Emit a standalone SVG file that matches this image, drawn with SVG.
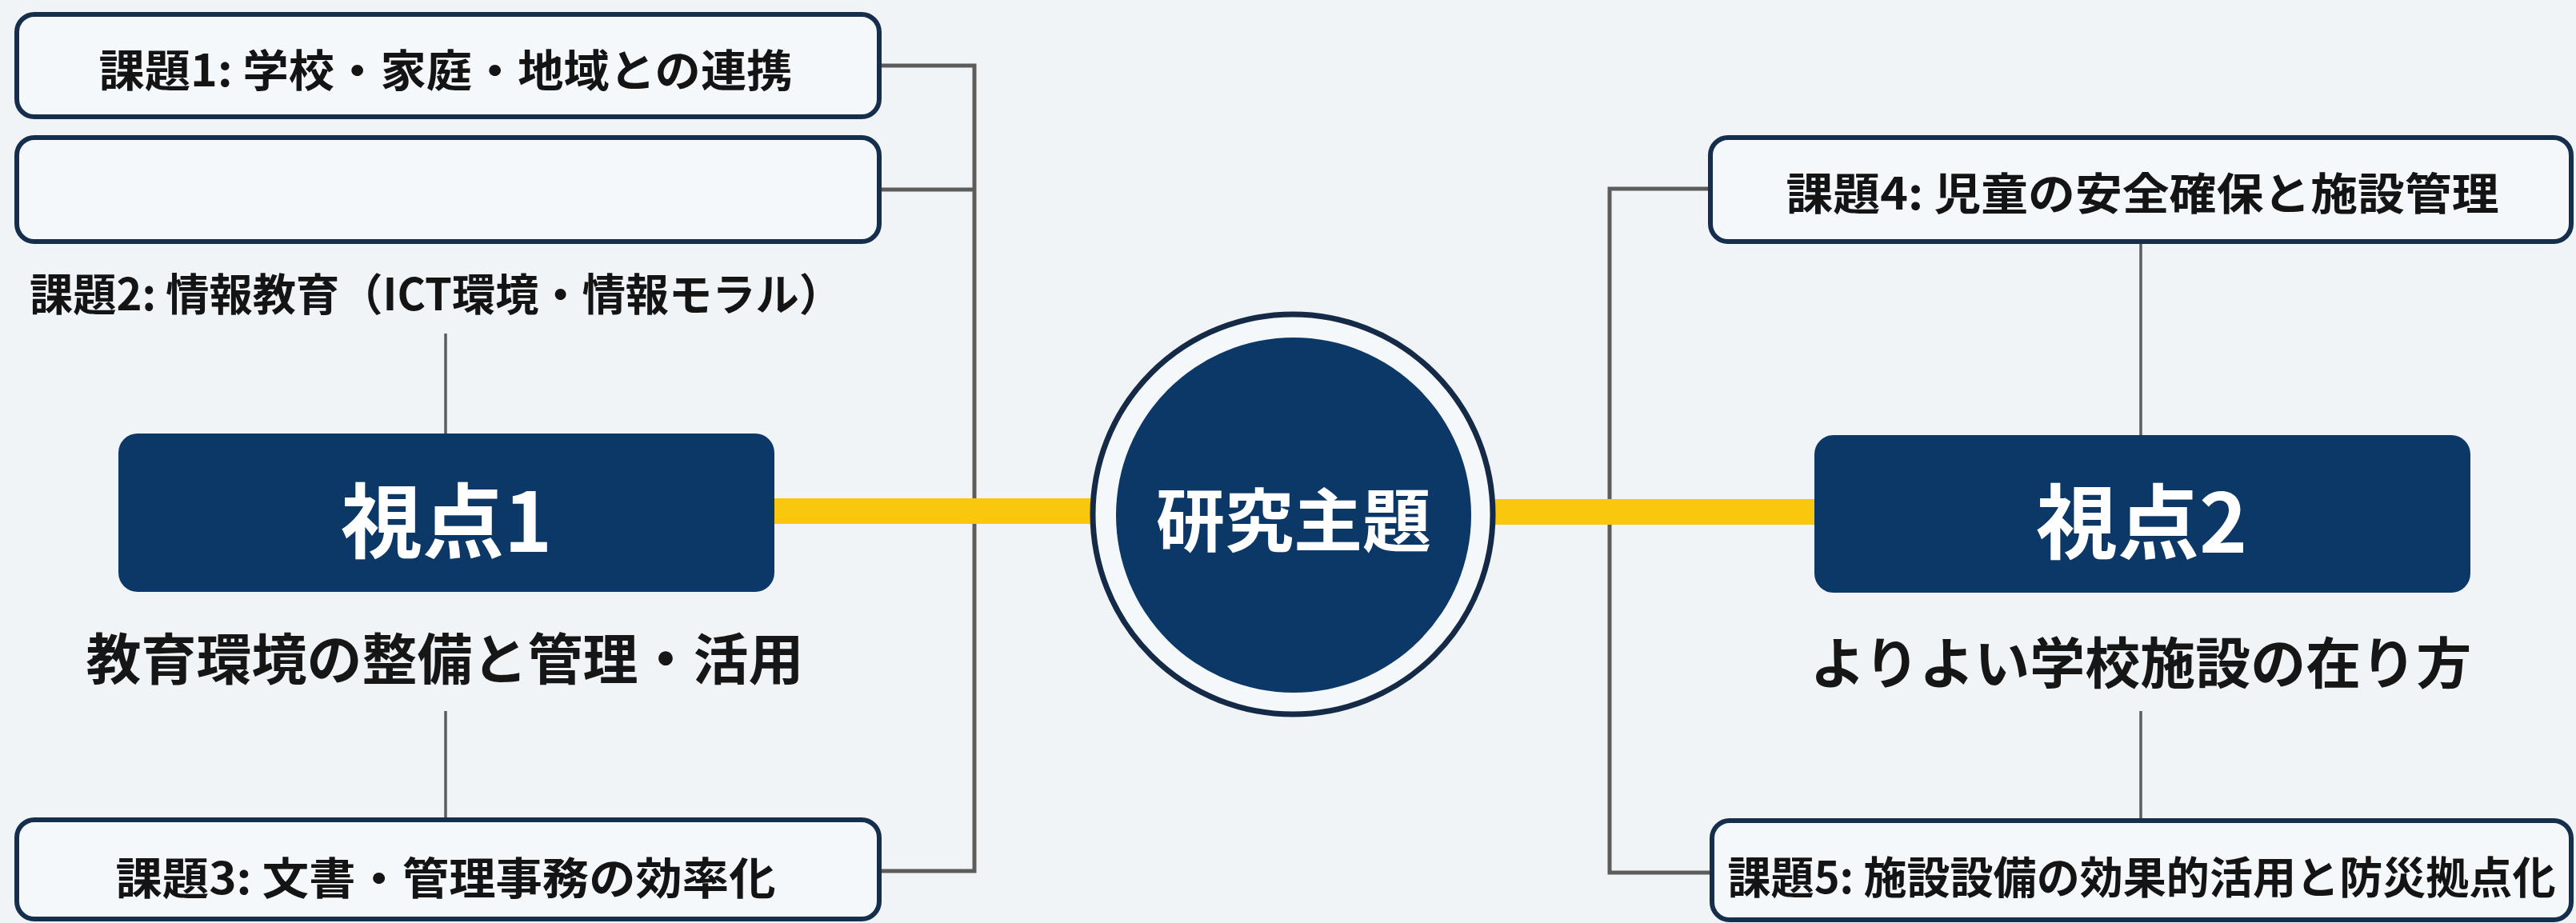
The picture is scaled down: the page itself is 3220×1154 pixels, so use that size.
<svg xmlns="http://www.w3.org/2000/svg" width="3220" height="1154" viewBox="0 0 3220 1154">
<style>
.bg{fill:#F0F4F7}
.task{fill:#F4F8FB;stroke:#142E4C;stroke-width:6}
.tt{font-family:"Noto Sans CJK JP","Noto Sans",sans-serif;font-weight:700;font-size:55px;fill:#141414;text-anchor:middle;dominant-baseline:central}
.view{fill:#0C3868}
.vt{font-family:"Noto Sans CJK JP","Noto Sans",sans-serif;font-weight:700;font-size:102px;fill:#FFFFFF;text-anchor:middle;dominant-baseline:central}
.sub{font-family:"Noto Sans CJK JP","Noto Sans",sans-serif;font-weight:700;font-size:69px;fill:#161616;text-anchor:middle;dominant-baseline:central}
.br{fill:none;stroke:#5C5C5C;stroke-width:5}
.thin{fill:none;stroke:#5C5C5C;stroke-width:3.5}
.yl{stroke:#F9C80E;stroke-width:32}
</style>
<rect class="bg" x="0" y="0" width="3220" height="1154"/>
<g id="connectors">
<polyline class="br" points="1099,82 1218,82 1218,1089 1099,1089"/>
<line class="br" x1="1099" y1="237" x2="1218" y2="237"/>
<line class="thin" x1="557" y1="417" x2="557" y2="542"/>
<line class="thin" x1="557" y1="889" x2="557" y2="1025"/>
<polyline class="br" points="2138,236 2012,236 2012,1091 2140,1091"/>
<line class="thin" x1="2676" y1="302" x2="2676" y2="544"/>
<line class="thin" x1="2676" y1="889" x2="2676" y2="1026"/>
<line class="yl" x1="968" y1="639" x2="1368" y2="639"/>
<line class="yl" x1="1866" y1="640" x2="2268" y2="640"/>
</g>
<g id="task1">
<rect class="task" x="21" y="18" width="1078" height="128" rx="22"/>
<text class="tt" x="557" y="84" textLength="867" lengthAdjust="spacingAndGlyphs">課題1: 学校・家庭・地域との連携</text>
</g>
<g id="task2">
<rect class="task" x="21" y="172" width="1078" height="130" rx="22"/>
<text class="tt" x="545" y="364" textLength="1016" lengthAdjust="spacingAndGlyphs">課題2: 情報教育（ICT環境・情報モラル）</text>
</g>
<g id="view1">
<rect class="view" x="148" y="542" width="820" height="198" rx="24"/>
<text class="vt" x="558" y="645">視点1</text>
<text class="sub" x="556" y="820">教育環境の整備と管理・活用</text>
</g>
<g id="task3">
<rect class="task" x="21" y="1025" width="1078" height="124" rx="22"/>
<text class="tt" x="557" y="1094" textLength="825" lengthAdjust="spacingAndGlyphs">課題3: 文書・管理事務の効率化</text>
</g>
<g id="center">
<circle cx="1616" cy="643" r="250" fill="#F4F8FB" stroke="#142A46" stroke-width="7"/>
<circle cx="1617" cy="644" r="222" fill="#0C3868"/>
<text class="vt" x="1617" y="645" style="font-size:86px">研究主題</text>
</g>
<g id="task4">
<rect class="task" x="2138" y="172" width="1076" height="130" rx="22"/>
<text class="tt" x="2678" y="238" textLength="891" lengthAdjust="spacingAndGlyphs">課題4: 児童の安全確保と施設管理</text>
</g>
<g id="view2">
<rect class="view" x="2268" y="544" width="820" height="197" rx="24"/>
<text class="vt" x="2677" y="646">視点2</text>
<text class="sub" x="2676" y="825">よりよい学校施設の在り方</text>
</g>
<g id="task5">
<rect class="task" x="2140" y="1026" width="1074" height="124" rx="22"/>
<text class="tt" x="2677" y="1093" textLength="1035" lengthAdjust="spacingAndGlyphs">課題5: 施設設備の効果的活用と防災拠点化</text>
</g>
</svg>
